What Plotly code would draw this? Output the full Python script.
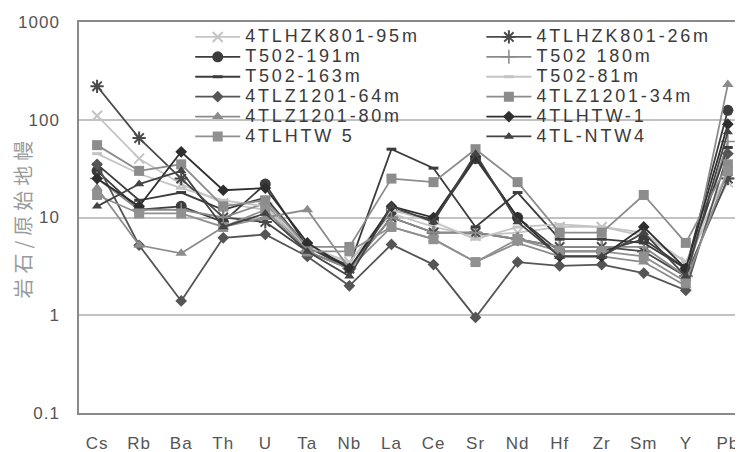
import plotly.graph_objects as go

elements = ["Cs", "Rb", "Ba", "Th", "U", "Ta", "Nb", "La", "Ce", "Sr", "Nd", "Hf", "Zr", "Sm", "Y", "Pb"]

s_95m   = [110, 40, 22, 14, 12, 5.0, 3.5, 11, 8.0, 6.5, 7.0, 8.0, 8.0, 6.5, 3.5, 23]
s_26m   = [220, 65, 25, 10, 9.0, 4.5, 3.0, 10, 7.0, 7.0, 6.0, 5.0, 5.0, 4.5, 2.5, 25]
s_191m  = [30, 12, 13, 9.0, 22, 5.0, 3.0, 12, 9.5, 40, 10, 4.5, 4.5, 6.0, 3.0, 125]
s_180m  = [25, 12, 12, 10, 14, 4.5, 3.0, 10, 7.0, 7.0, 6.0, 5.0, 5.0, 5.0, 2.5, 60]
s_163m  = [35, 15, 18, 12, 16, 5.0, 3.2, 50, 32, 8.0, 18, 6.0, 6.0, 5.5, 3.0, 52]
s_81m   = [45, 28, 20, 15, 13, 5.0, 3.5, 12, 9.0, 6.0, 8.0, 8.5, 8.0, 7.0, 3.5, 30]
s_64m   = [35, 5.2, 1.4, 6.2, 6.7, 4.0, 2.0, 5.3, 3.3, 0.95, 3.5, 3.2, 3.3, 2.7, 1.8, 45]
s_34m   = [55, 30, 35, 13, 15, 5.0, 5.0, 25, 23, 50, 23, 7.0, 7.0, 17, 5.5, 35]
s_80m   = [20, 5.2, 4.3, 8.0, 10, 12, 3.0, 8.0, 6.0, 3.5, 5.5, 4.0, 4.0, 3.5, 2.0, 230]
s_htw1  = [25, 13, 47, 19, 20, 5.5, 3.0, 13, 10, 42, 10, 4.0, 4.0, 8.0, 3.0, 90]
s_htw5  = [17, 11, 11, 8.0, 12, 4.5, 4.5, 8.0, 6.0, 3.5, 6.0, 4.5, 4.5, 4.0, 2.2, 30]
s_ntw4  = [13, 22, 30, 8.0, 11, 4.5, 2.5, 13, 9.0, 45, 9.0, 4.0, 4.0, 7.0, 2.5, 75]

names = ["4TLHZK801-95m", "4TLHZK801-26m", "T502-191m", "T502 180m", "T502-163m", "T502-81m",
         "4TLZ1201-64m", "4TLZ1201-34m", "4TLZ1201-80m", "4TLHTW-1", "4TLHTW 5", "4TL-NTW4"]
series = [s_95m, s_26m, s_191m, s_180m, s_163m, s_81m, s_64m, s_34m, s_80m, s_htw1, s_htw5, s_ntw4]

# style per series: (line colour, symbol, size, marker-line width)
styles = [
    ("#c4c4c4", "x-thin-open", 10, 2),
    ("#4a4a4a", "asterisk-open", 11, 2),
    ("#3c3c3c", "circle", 11, 0),
    ("#8a8a8a", "cross-thin-open", 10, 1.5),
    ("#3c3c3c", "line-ew-open", 7, 3),
    ("#c4c4c4", "line-ew-open", 7, 3),
    ("#555555", "diamond", 9, 0),
    ("#8c8c8c", "square", 10, 0),
    ("#8c8c8c", "triangle-up", 10, 0),
    ("#2e2e2e", "diamond", 9, 0),
    ("#909090", "square", 10, 0),
    ("#444444", "triangle-up", 9, 0),
]

LS = "font-size:18px;letter-spacing:2.8px"

fig = go.Figure()
for i, (nm, ys, st) in enumerate(zip(names, series, styles)):
    col, sym, size, lw = st
    fig.add_trace(go.Scatter(
        x=elements, y=ys, mode="lines+markers",
        name=f"<span style='{LS}'>{nm}</span>",
        line=dict(color=col, width=1.8),
        marker=dict(symbol=sym, size=size, color=col, line=dict(color=col, width=lw)),
        legend="legend" if i % 2 == 0 else "legend2",
    ))

tick_vals = [0.1, 1, 10, 100, 1000]
tick_text = [f"<span style='letter-spacing:1px'>{t}</span>" for t in ["0.1", "1", "10", "100", "1000"]]
x_text = [f"<span style='letter-spacing:1px'>{e}</span>" for e in elements]

legend_common = dict(
    bgcolor="rgba(0,0,0,0)", borderwidth=0,
    font=dict(family="Liberation Sans, Arial, sans-serif", size=13, color="#3a3a3a"),
    itemwidth=45, tracegroupgap=0, yanchor="top", y=1.0, xanchor="left",
    itemclick=False, itemdoubleclick=False,
)

# the page body adds an 8 px offset, so the figure is 8 px smaller than the window
fig.update_layout(
    width=735, height=444,
    margin=dict(l=71, r=0, t=14, b=39),
    paper_bgcolor="white", plot_bgcolor="white",
    font=dict(family="Liberation Sans, Arial, sans-serif", color="#555555"),
    legend=dict(x=0.1675, **legend_common),
    legend2=dict(x=0.606, **legend_common),
    xaxis=dict(
        type="category", categoryorder="array", categoryarray=elements,
        tickvals=elements, ticktext=x_text,
        range=[-0.43, 15.36], automargin=False,
        showgrid=False, showline=True, linecolor="#8a8a8a", linewidth=1.5, mirror=True,
        ticks="", tickfont=dict(size=17, color="#555555"), ticklabelstandoff=14,
        zeroline=False,
    ),
    yaxis=dict(
        type="log", range=[-1, 3], automargin=False,
        tickvals=tick_vals, ticktext=tick_text,
        showgrid=True, gridcolor="#c2c2c2", gridwidth=1.5,
        showline=True, linecolor="#8a8a8a", linewidth=1.5,
        ticks="", tickfont=dict(size=17, color="#555555"), ticklabelstandoff=14,
        zeroline=False,
    ),
    annotations=[dict(
        text="<span style='letter-spacing:5px'>岩石/原始地幔</span>", textangle=-90,
        xref="paper", yref="paper", borderpad=0,
        x=-57 / 664, y=0.5, xanchor="center", yanchor="middle", showarrow=False,
        font=dict(family="Noto Sans CJK SC", size=20, color="#9a9a9a"),
    )],
)

fig.write_html("out.html")
